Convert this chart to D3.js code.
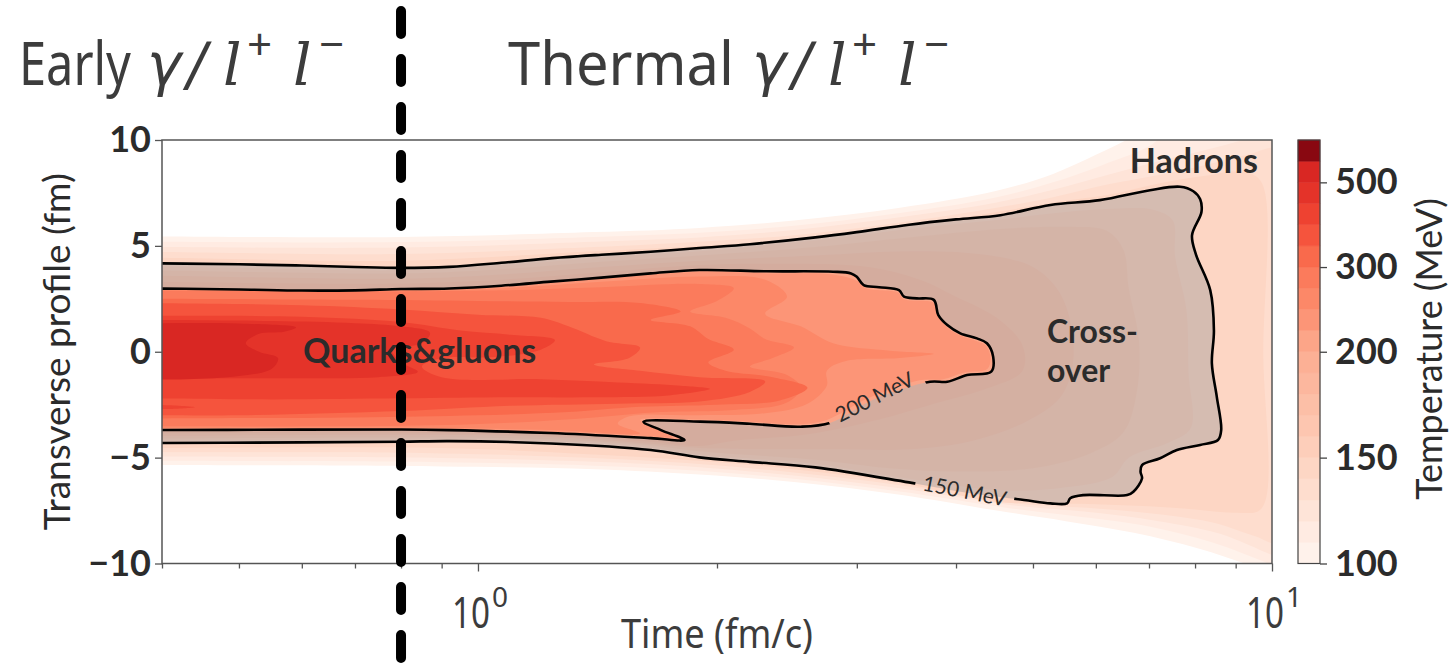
<!DOCTYPE html>
<html>
<head>
<meta charset="UTF-8">
<script src="https://cdn.jsdelivr.net/npm/d3@7"></script>
<style>
  body { margin: 0; background: #fff; }
  svg { display: block; }
  .bold { font-family: Lato, "Open Sans", sans-serif; font-weight: 700; fill: #2b2b2b; }
  .reg { font-family: Lato, "Open Sans", sans-serif; font-weight: 400; fill: #2b2b2b; }
  .narrow { font-family: "Noto Sans", "Open Sans", sans-serif; fill: #3c3c3c; }
  .math { font-family: "DejaVu Sans", sans-serif; font-style: italic; fill: #3c3c3c; }
  .mathl { font-family: "DejaVu Serif", serif; font-style: italic; fill: #3c3c3c; }
</style>
</head>
<body>
<div id="chart"></div>
<script>
// colour levels (MeV) and colorbar ticks
const levels = [100, 110, 120, 130, 140, 150, 160, 170, 180, 190, 200, 225, 250, 275, 300, 350, 400, 450, 500, 550, 600];
const cbTicks = [100, 150, 200, 300, 500];
const xMajor = [1, 10];
const xMinor = [0.4, 0.5, 0.6, 0.7, 0.8, 0.9, 2, 3, 4, 5, 6, 7, 8, 9];
const yTicks = [-10, -5, 0, 5, 10];
const boundaryTime = 0.8;

// iso-temperature regions, points are [time fm/c, transverse fm]
const iso100 = [[0.38,5.45],[0.8,5.42],[1.4,5.65],[1.9,5.85],[2.5,6.2],[3.4,6.8],[4.5,7.6],[5.3,8.4],[6.0,9.3],[6.7,10.2],[7.0,10.7],[10.7,10.7],[10.7,-10.7],[9.6,-10.2],[8.1,-9.3],[6.7,-8.55],[5.5,-8.0],[4.5,-7.5],[3.4,-6.75],[2.5,-6.15],[1.9,-5.8],[1.4,-5.55],[0.9,-5.42],[0.38,-5.35]];
const iso110 = [[0.38,5.2],[0.8,5.18],[1.4,5.42],[1.9,5.62],[2.5,5.95],[3.4,6.55],[4.5,7.3],[5.3,8.0],[6.1,8.8],[7.0,9.7],[7.6,10.7],[10.7,10.7],[10.7,-10.5],[9.9,-10.0],[8.4,-9.0],[7.0,-8.25],[5.6,-7.75],[4.6,-7.35],[3.4,-6.6],[2.5,-6.0],[1.9,-5.62],[1.4,-5.38],[0.9,-5.22],[0.38,-5.15]];
const iso120 = [[0.38,4.95],[0.8,4.92],[1.4,5.2],[1.9,5.4],[2.5,5.75],[3.4,6.35],[4.5,7.05],[5.3,7.65],[6.2,8.35],[7.2,9.0],[8.2,9.5],[9.4,10.1],[10.7,10.7],[10.7,-10.0],[10.0,-9.6],[8.6,-8.6],[7.2,-8.0],[5.8,-7.55],[4.7,-7.25],[3.4,-6.45],[2.5,-5.85],[1.9,-5.45],[1.4,-5.2],[0.9,-5.02],[0.38,-4.95]];
const iso130 = [[0.38,4.72],[0.8,4.62],[1.4,4.95],[1.9,5.2],[2.5,5.5],[3.4,6.1],[4.5,6.8],[5.3,7.3],[6.2,7.9],[7.2,8.35],[8.2,8.8],[9.3,9.3],[10.3,9.5],[10.3,-9.0],[9.5,-8.7],[8.5,-8.1],[7.3,-7.7],[6.0,-7.4],[4.8,-7.18],[3.4,-6.3],[2.5,-5.7],[1.9,-5.3],[1.4,-5.02],[0.9,-4.8],[0.38,-4.75]];
const iso140 = [[0.38,4.45],[0.8,4.3],[1.4,4.75],[1.9,5.0],[2.5,5.3],[3.4,5.9],[4.5,6.6],[5.3,7.05],[6.2,7.4],[7.2,7.95],[8.2,8.3],[9.2,8.5],[9.7,8.0],[9.75,0],[9.7,-7.4],[9.0,-7.6],[8.0,-7.45],[7.0,-7.3],[6.0,-7.2],[5.0,-7.15],[4.5,-7.1],[3.4,-6.2],[2.5,-5.55],[1.9,-5.15],[1.4,-4.85],[0.9,-4.55],[0.38,-4.55]];
const iso150 = [[0.38,4.18],[0.5,4.13],[0.6,4.07],[0.7,4.0],[0.8,3.96],[0.92,4.01],[1.07,4.2],[1.24,4.42],[1.43,4.58],[1.65,4.72],[1.9,4.9],[2.2,5.08],[2.66,5.4],[3.0,5.65],[3.49,6.0],[4.0,6.25],[4.55,6.45],[5.26,6.93],[6.07,7.16],[7.02,7.63],[7.66,7.79],[7.96,7.58],[8.12,7.2],[8.15,6.6],[7.93,5.5],[8.02,4.6],[8.36,2.91],[8.45,1.0],[8.40,-0.55],[8.52,-2.12],[8.63,-3.7],[8.55,-4.17],[8.12,-4.4],[7.59,-4.64],[7.23,-5.03],[6.86,-5.35],[6.83,-5.67],[6.86,-5.98],[6.69,-6.61],[6.57,-6.77],[5.79,-6.77],[5.57,-6.92],[5.52,-7.16],[5.26,-7.16],[4.87,-7.0],[4.2,-6.7],[3.49,-6.17],[2.66,-5.46],[2.2,-5.2],[1.9,-4.99],[1.65,-4.64],[1.235,-4.33],[0.92,-4.22],[0.8,-4.25],[0.6,-4.28],[0.38,-4.31]];
const iso160 = [[0.38,4.05],[0.8,3.85],[1.07,4.08],[1.43,4.45],[1.9,4.75],[2.66,5.25],[3.49,5.8],[4.55,6.25],[5.5,6.6],[6.3,6.75],[7.1,6.7],[7.5,6.2],[7.55,4.5],[7.8,2.0],[7.85,-1.0],[7.9,-3.6],[7.4,-4.3],[6.6,-5.0],[6.3,-5.9],[5.5,-6.4],[4.6,-6.55],[3.49,-6.0],[2.66,-5.3],[1.9,-4.85],[1.65,-4.52],[1.235,-4.22],[0.8,-4.15],[0.38,-4.2]];
const iso170 = [[0.38,3.85],[0.8,3.7],[1.07,3.9],[1.43,4.25],[1.9,4.55],[2.66,4.95],[3.49,5.4],[4.55,5.8],[5.5,5.9],[6.2,5.7],[6.5,4.8],[6.6,3.0],[6.8,0.5],[6.75,-2.0],[6.5,-3.8],[5.9,-4.8],[5.0,-5.5],[4.0,-5.65],[3.3,-5.5],[2.66,-5.1],[1.9,-4.7],[1.65,-4.42],[1.235,-4.13],[0.8,-4.05],[0.38,-4.1]];
const iso180 = [[0.38,3.6],[0.8,3.45],[1.07,3.65],[1.43,4.0],[1.9,4.3],[2.66,4.55],[3.49,4.75],[4.3,4.6],[5.0,4.0],[5.4,2.8],[5.6,1.0],[5.6,-0.8],[5.4,-2.2],[4.9,-3.3],[4.2,-4.2],[3.5,-4.6],[2.8,-4.6],[2.2,-4.6],[1.9,-4.55],[1.65,-4.35],[1.235,-4.03],[0.8,-3.92],[0.38,-3.98]];
const iso190 = [[0.38,3.3],[0.8,3.22],[1.07,3.4],[1.43,3.75],[1.9,4.1],[2.5,4.15],[3.1,4.0],[3.6,3.4],[4.0,2.6],[4.5,1.6],[4.85,0.3],[4.85,-0.9],[4.4,-1.7],[3.8,-2.4],[3.2,-3.2],[2.6,-3.9],[2.1,-4.2],[1.9,-4.45],[1.65,-4.25],[1.235,-3.95],[0.8,-3.82],[0.38,-3.85]];
const iso200 = [[0.38,2.99],[0.5,2.94],[0.6,2.89],[0.7,2.9],[0.8,2.96],[0.92,2.99],[1.07,3.12],[1.235,3.31],[1.43,3.5],[1.65,3.7],[1.9,3.86],[2.31,3.8],[2.8,3.78],[2.95,3.7],[3.0,3.54],[3.06,3.15],[3.2,3.05],[3.39,2.91],[3.44,2.6],[3.57,2.52],[3.75,2.45],[3.8,1.73],[3.9,1.26],[4.05,0.87],[4.25,0.63],[4.375,0.4],[4.455,-0.24],[4.43,-0.94],[4.13,-1.1],[3.9,-1.42],[3.71,-1.42],[3.15,-2.25],[2.78,-3.35],[2.55,-3.54],[2.2,-3.4],[1.905,-3.3],[1.616,-3.3],[1.7,-3.7],[1.82,-4.17],[1.65,-4.08],[1.235,-3.84],[0.92,-3.7],[0.8,-3.67],[0.6,-3.68],[0.38,-3.7]];
const iso225 = [[0.38,2.96],[0.8,2.93],[1.07,3.08],[1.43,3.44],[1.9,3.78],[2.31,3.7],[2.8,3.65],[3.0,3.35],[3.08,3.0],[3.38,2.8],[3.44,2.48],[3.75,2.3],[3.8,1.65],[3.9,1.15],[4.05,0.77],[4.25,0.5],[4.36,0.3],[4.42,-0.25],[4.38,-0.82],[4.1,-0.98],[3.85,-1.3],[3.6,-1.35],[3.1,-2.2],[2.75,-3.22],[2.55,-3.42],[2.2,-3.3],[1.9,-3.2],[1.6,-3.22],[1.68,-3.65],[1.76,-4.05],[1.63,-3.98],[1.235,-3.78],[0.8,-3.62],[0.38,-3.64]];
const iso250 = [[0.38,2.93],[0.8,2.9],[1.07,3.0],[1.43,3.3],[1.9,3.55],[2.3,3.4],[2.45,2.6],[2.3,1.8],[2.55,1.2],[2.8,0.4],[3.3,0.05],[3.75,-0.1],[3.4,-0.3],[2.9,-0.45],[2.75,-0.9],[2.75,-1.6],[2.6,-2.45],[2.3,-2.9],[1.9,-3.0],[1.55,-3.05],[1.5,-3.4],[1.6,-3.85],[1.235,-3.7],[0.8,-3.58],[0.38,-3.6]];
const iso275 = [[0.38,2.88],[0.8,2.85],[1.07,2.9],[1.43,3.05],[1.9,3.2],[2.1,3.0],[2.0,2.4],[1.85,1.9],[2.05,1.6],[2.2,1.1],[2.3,0.6],[2.5,0.2],[2.35,-0.3],[2.2,-0.7],[2.45,-1.1],[2.55,-1.7],[2.45,-2.4],[2.1,-2.75],[1.7,-2.85],[1.4,-3.1],[1.1,-3.35],[0.8,-3.5],[0.38,-3.52]];
const iso300 = [[0.38,2.5],[0.7,2.45],[1.0,2.4],[1.3,2.35],[1.6,2.3],[1.8,1.9],[1.65,1.5],[1.85,1.2],[1.95,0.6],[2.1,0.1],[1.95,-0.5],[2.05,-0.9],[2.35,-1.2],[2.6,-1.7],[2.4,-2.3],[2.0,-2.5],[1.6,-2.6],[1.3,-2.85],[1.0,-3.0],[0.7,-3.1],[0.38,-3.15]];
const iso350 = [[0.38,2.3],[0.6,2.2],[0.8,2.0],[1.0,1.75],[1.2,1.6],[1.3,1.2],[1.45,0.5],[1.6,0.2],[1.55,-0.3],[1.4,-0.6],[1.6,-0.9],[1.9,-1.2],[2.3,-1.4],[2.2,-1.9],[1.9,-2.35],[1.5,-2.45],[1.1,-2.55],[0.8,-2.8],[0.5,-3.0],[0.38,-3.0]];
const iso400 = [[0.38,1.7],[0.6,1.65],[0.8,1.4],[0.95,1.0],[1.1,0.8],[1.25,0.55],[1.2,0.1],[1.05,-0.25],[0.9,-0.3],[0.85,-0.7],[0.9,-1.2],[1.2,-1.3],[1.5,-1.45],[1.8,-1.6],[1.96,-1.75],[1.75,-2.05],[1.4,-2.15],[1.1,-2.15],[0.8,-2.2],[0.55,-2.25],[0.38,-2.2]];
const iso400b = [[0.38,-2.5],[0.42,-2.55],[0.44,-2.62],[0.41,-2.7],[0.38,-2.7]];
const iso450 = [[0.38,1.5],[0.55,1.45],[0.7,1.35],[0.8,1.2],[0.87,0.9],[0.85,0.4],[0.78,0.1],[0.8,-0.5],[0.84,-0.95],[0.75,-1.2],[0.6,-1.25],[0.45,-1.25],[0.38,-1.25]];
const iso500 = [[0.38,1.35],[0.5,1.33],[0.59,1.15],[0.57,0.95],[0.53,0.85],[0.51,0.4],[0.53,0.0],[0.56,-0.3],[0.55,-0.8],[0.5,-1.15],[0.43,-1.3],[0.38,-1.3]];

const fieldRegions = [
  [100, [iso100]], [110, [iso110]], [120, [iso120]], [130, [iso130]], [140, [iso140]],
  [150, [iso150]], [160, [iso160]], [170, [iso170]], [180, [iso180]], [190, [iso190]],
  [200, [iso200]], [225, [iso225]], [250, [iso250]], [275, [iso275]], [300, [iso300]],
  [350, [iso350]], [400, [iso400, iso400b]], [450, [iso450]], [500, [iso500]]
];

const W = 1455, H = 663;
const plot = {left: 162, right: 1272, top: 140, bottom: 563.5};
const cb = {left: 1298, right: 1320};

const svg = d3.select("#chart").append("svg").attr("width", W).attr("height", H);
const defs = svg.append("defs");

const x = d3.scaleLog().domain([0.4, 10]).range([plot.left, plot.right]);
const y = d3.scaleLinear().domain([-10, 10]).range([plot.bottom, plot.top]);

// band colours: log position along the Reds map
const colorPos = d3.scaleLog().domain([105, 525, 575]).range([0.02, 0.70, 0.93]);
const bandColor = i => d3.interpolateReds(colorPos((levels[i] + levels[i + 1]) / 2));

// extend every ring past the left edge so the smoothing never bends inside the frame
const padRing = r => [[0.3, r[0][1]], ...r, [0.3, r[r.length - 1][1]]];
const ringLine = d3.line().x(d => x(d[0])).y(d => y(d[1])).curve(d3.curveCatmullRomClosed.alpha(0.5));

defs.append("clipPath").attr("id", "plotClip")
  .append("rect").attr("x", plot.left).attr("y", plot.top)
  .attr("width", plot.right - plot.left).attr("height", plot.bottom - plot.top);

const field = svg.append("g").attr("clip-path", "url(#plotClip)");

fieldRegions.forEach(([lev, rings]) => {
  const i = levels.indexOf(lev);
  rings.forEach(r => {
    field.append("path").attr("d", ringLine(padRing(r))).attr("fill", bandColor(i));
  });
});

// crossover shading between the 150 and 200 MeV isotherms
field.append("path")
  .attr("d", ringLine(padRing(iso150)) + ringLine(padRing(iso200)))
  .attr("fill-rule", "evenodd")
  .attr("fill", "#a8a8a8")
  .attr("fill-opacity", 0.47);

// label gaps in the contour lines
const contourLabels = [
  {text: "200 MeV", cx: 874, cy: 396, angle: -27, w: 104},
  {text: "150 MeV", cx: 965, cy: 490, angle: 11, w: 100}
];
const mask = defs.append("mask").attr("id", "gapMask").attr("maskUnits", "userSpaceOnUse")
  .attr("x", 0).attr("y", 0).attr("width", W).attr("height", H);
mask.append("rect").attr("width", W).attr("height", H).attr("fill", "#fff");
contourLabels.forEach(l => {
  mask.append("rect").attr("x", -l.w / 2).attr("y", -14).attr("width", l.w).attr("height", 28)
    .attr("transform", `translate(${l.cx},${l.cy}) rotate(${l.angle})`).attr("fill", "#000");
});

const lines = field.append("g").attr("mask", "url(#gapMask)");
[iso150, iso200].forEach(r => {
  lines.append("path").attr("d", ringLine(padRing(r)))
    .attr("fill", "none").attr("stroke", "#000").attr("stroke-width", 2.6);
});

contourLabels.forEach(l => {
  svg.append("text").attr("class", "reg")
    .attr("transform", `translate(${l.cx},${l.cy}) rotate(${l.angle})`)
    .attr("text-anchor", "middle").attr("dominant-baseline", "central")
    .attr("font-size", 21).attr("fill", "#111").text(l.text);
});

// region names
svg.append("text").attr("class", "bold").attr("x", 303).attr("y", 363).attr("font-size", 34).text("Quarks&gluons");
const cross = svg.append("text").attr("class", "bold").attr("font-size", 32);
cross.append("tspan").attr("x", 1047).attr("y", 343).text("Cross-");
cross.append("tspan").attr("x", 1047).attr("y", 382).text("over");
svg.append("text").attr("class", "bold").attr("x", 1258).attr("y", 173).attr("font-size", 34)
  .attr("text-anchor", "end").text("Hadrons");

// frame
svg.append("rect").attr("x", plot.left).attr("y", plot.top)
  .attr("width", plot.right - plot.left).attr("height", plot.bottom - plot.top)
  .attr("fill", "none").attr("stroke", "#555").attr("stroke-width", 1.5);

// x axis ticks
const xAxisMinor = svg.append("g").attr("transform", `translate(0,${plot.bottom})`);
xAxisMinor.call(d3.axisBottom(x).tickValues(xMinor).tickSize(5).tickFormat(""));
xAxisMinor.select(".domain").remove();
const xAxisMajor = svg.append("g").attr("transform", `translate(0,${plot.bottom})`);
xAxisMajor.call(d3.axisBottom(x).tickValues(xMajor).tickSize(8).tickFormat(""));
xAxisMajor.select(".domain").remove();
svg.selectAll(".tick line").attr("stroke", "#555").attr("stroke-width", 1.3);

// narrow text: squeeze a run horizontally to a given width
function narrowText(x0, y0, size, width, str) {
  const t = svg.append("text").attr("class", "narrow").attr("font-size", size).text(str);
  const sx = width / t.node().getComputedTextLength();
  t.attr("transform", `translate(${x0},${y0}) scale(${sx},1)`);
  return t;
}

// decade labels 10^0, 10^1
xMajor.forEach(v => {
  narrowText(x(v) - 26, 628, 44, 38, "10");
  svg.append("text").attr("class", "narrow").attr("x", x(v) + 14).attr("y", 607)
    .attr("font-size", 28).text(Math.round(Math.log10(v)));
});

narrowText((plot.left + plot.right) / 2 - 96, 648, 40, 192, "Time (fm/c)");

// y axis
const yAxisG = svg.append("g").attr("transform", `translate(${plot.left},0)`);
yAxisG.call(d3.axisLeft(y).tickValues(yTicks).tickSize(7).tickPadding(4)
  .tickFormat(d => d < 0 ? "\u2212" + Math.abs(d) : d));
yAxisG.select(".domain").remove();
yAxisG.selectAll("line").attr("stroke", "#555").attr("stroke-width", 1.3);
yAxisG.selectAll("text").attr("class", "bold").attr("font-size", 36).attr("fill", "#2b2b2b");

svg.append("text").attr("class", "reg")
  .attr("transform", `translate(55,${(plot.top + plot.bottom) / 2}) rotate(-90)`)
  .attr("text-anchor", "middle").attr("dominant-baseline", "central")
  .attr("font-size", 37).attr("fill", "#333").text("Transverse profile (fm)");

// colorbar
const cbScale = d3.scaleLinear().domain([0, levels.length - 1]).range([plot.bottom, plot.top]);
const cbG = svg.append("g");
d3.range(levels.length - 1).forEach(i => {
  cbG.append("rect").attr("x", cb.left).attr("width", cb.right - cb.left)
    .attr("y", cbScale(i + 1)).attr("height", cbScale(i) - cbScale(i + 1))
    .attr("fill", bandColor(i)).attr("stroke", bandColor(i)).attr("stroke-width", 0.5);
});
cbG.append("rect").attr("x", cb.left).attr("y", plot.top).attr("width", cb.right - cb.left)
  .attr("height", plot.bottom - plot.top).attr("fill", "none").attr("stroke", "#444").attr("stroke-width", 1.2);

const cbAxis = svg.append("g").attr("transform", `translate(${cb.right},0)`);
cbAxis.call(d3.axisRight(cbScale).tickValues(cbTicks.map(v => levels.indexOf(v)))
  .tickSize(7).tickPadding(8).tickFormat(i => levels[i]));
cbAxis.select(".domain").remove();
cbAxis.selectAll("line").attr("stroke", "#444").attr("stroke-width", 1.3);
cbAxis.selectAll("text").attr("class", "bold").attr("font-size", 36).attr("fill", "#2b2b2b");

svg.append("text").attr("class", "reg")
  .attr("transform", `translate(1428,349) rotate(-90)`)
  .attr("text-anchor", "middle").attr("dominant-baseline", "central")
  .attr("font-size", 36).attr("fill", "#333").text("Temperature (MeV)");

// titles: word, then the γ / l+ l− glyphs placed one by one
const mathGlyphs = [["\u03b3", 0, "math"], ["/", 40, "math"], ["l", 76, "mathl"], ["+", 100, "sup"], ["l", 146, "mathl"], ["\u2212", 172, "sup"]];
function mathTitle(x0, word, wordWidth, mathX) {
  narrowText(x0, 85, 60, wordWidth, word);
  const t = svg.append("text").attr("y", 85).attr("font-size", 58);
  mathGlyphs.forEach(([g, dx, kind]) => {
    t.append("tspan").attr("class", kind === "sup" ? "narrow" : kind).attr("x", mathX + dx)
      .attr("y", kind === "sup" ? 60 : 85).attr("font-size", kind === "sup" ? 44 : 58).text(g);
  });
}
mathTitle(19, "Early", 112, 147);
mathTitle(508, "Thermal", 226, 752);

// early / thermal boundary
svg.append("line")
  .attr("x1", x(boundaryTime)).attr("x2", x(boundaryTime))
  .attr("y1", 11).attr("y2", 663)
  .attr("stroke", "#000").attr("stroke-width", 10)
  .attr("stroke-linecap", "round").attr("stroke-dasharray", "23 25");
</script>
</body>
</html>
